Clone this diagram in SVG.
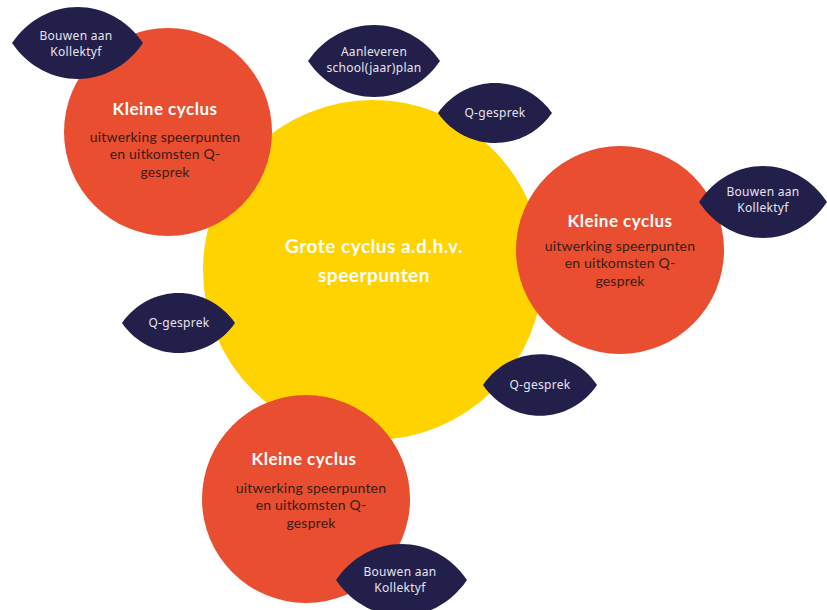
<svg xmlns="http://www.w3.org/2000/svg" width="827" height="610" viewBox="0 0 827 610">
<style>
.big{fill:#FFD300}
.orange{fill:#E84E2F}
.leaf{fill:#221F4B}
.title{font-family:"Lato","Open Sans",sans-serif;font-weight:bold;fill:#FFFFFF;text-anchor:middle;letter-spacing:0.5px}
.body{font-family:"Lato","Noto Sans",sans-serif;font-size:14px;fill:#3A1C16;text-anchor:middle;letter-spacing:0.2px}
.lt{font-family:"Noto Sans","Lato",sans-serif;font-size:12px;fill:#E6E4F0;text-anchor:middle;letter-spacing:0.3px}
</style>
<rect width="827" height="610" fill="#FFFFFF"/>
<g id="grote-cyclus">
<circle class="big" cx="373" cy="270" r="170"/>
<text class="title" x="374" y="253" font-size="19">Grote cyclus a.d.h.v.</text>
<text class="title" x="374" y="282" font-size="19">speerpunten</text>
</g>
<g id="kleine-cyclus-1">
<circle class="orange" cx="168" cy="132" r="104"/>
<text class="title" x="165" y="115" font-size="17">Kleine cyclus</text>
<text class="body" x="165" y="142">uitwerking speerpunten</text>
<text class="body" x="165" y="159">en uitkomsten Q-</text>
<text class="body" x="165" y="177">gesprek</text>
</g>
<g id="kleine-cyclus-2">
<circle class="orange" cx="620" cy="250" r="104"/>
<text class="title" x="620" y="227" font-size="17">Kleine cyclus</text>
<text class="body" x="620" y="251">uitwerking speerpunten</text>
<text class="body" x="620" y="268">en uitkomsten Q-</text>
<text class="body" x="620" y="286">gesprek</text>
</g>
<g id="kleine-cyclus-3">
<circle class="orange" cx="306" cy="499" r="104"/>
<text class="title" x="304" y="465" font-size="17">Kleine cyclus</text>
<text class="body" x="311" y="493">uitwerking speerpunten</text>
<text class="body" x="311" y="510">en uitkomsten Q-</text>
<text class="body" x="311" y="528">gesprek</text>
</g>
<g id="leaf-bouwen-1">
<path class="leaf" d="M12,43 C45,-5 110,-5 143,43 C110,91 45,91 12,43 Z"/>
<text class="lt" x="76" y="39.5">Bouwen aan</text>
<text class="lt" x="76" y="55.5">Kollektyf</text>
</g>
<g id="leaf-aanleveren">
<path class="leaf" d="M308,61 C341,13 407,13 440,61 C407,109 341,109 308,61 Z"/>
<text class="lt" x="374" y="56">Aanleveren</text>
<text class="lt" x="374" y="72">school(jaar)plan</text>
</g>
<g id="leaf-q-1">
<path class="leaf" d="M438,113 C466,73 524,73 552,113 C524,153 466,153 438,113 Z"/>
<text class="lt" x="495" y="117">Q-gesprek</text>
</g>
<g id="leaf-bouwen-2">
<path class="leaf" d="M699,202 C731,154 795,154 827,202 C795,250 731,250 699,202 Z"/>
<text class="lt" x="763" y="196">Bouwen aan</text>
<text class="lt" x="763" y="212">Kollektyf</text>
</g>
<g id="leaf-q-2">
<path class="leaf" d="M122,323 C150,283 207,283 235,323 C207,363 150,363 122,323 Z"/>
<text class="lt" x="179" y="327">Q-gesprek</text>
</g>
<g id="leaf-q-3">
<path class="leaf" d="M483,385 C511,344 569,344 597,385 C569,426 511,426 483,385 Z"/>
<text class="lt" x="540" y="389">Q-gesprek</text>
</g>
<g id="leaf-bouwen-3">
<path class="leaf" d="M336,580 C369,532 434,532 467,580 C434,628 369,628 336,580 Z"/>
<text class="lt" x="400" y="575.5">Bouwen aan</text>
<text class="lt" x="400" y="591.5">Kollektyf</text>
</g>
<g id="connectors"></g>
</svg>
